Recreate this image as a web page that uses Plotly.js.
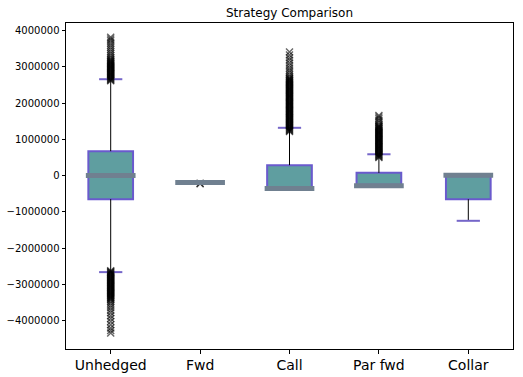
<!DOCTYPE html>
<html>
<head>
<meta charset="utf-8">
<script src="https://cdn.plot.ly/plotly-3.0.1.min.js"></script>
<style>html,body{margin:0;padding:0;background:#fff;}#chart{width:523px;height:377px;}</style>
</head>
<body>
<div id="chart"></div>
<script>
// ---- data ----
const categories = ["Unhedged", "Fwd", "Call", "Par fwd", "Collar"];
const positions = [1, 2, 3, 4, 5];
const q1Values = [-647000, -200000, -355000, -275000, -650000];
const medianValues = [5000, -190000, -355000, -275000, 10000];
const q3Values = [675000, -180000, 290000, 77000, 10000];
const whiskerLow = [-2660000, -200000, -355000, -275000, -1245000];
const whiskerHigh = [2660000, -180000, 1320000, 590000, 10000];

const outliersUnhedged = [
  2620000, 2640000, 2660000, 2680000, 2700000, 2720000, 2740000, 2760000, 2780000, 2800000,
  2820000, 2840000, 2860000, 2880000, 2900000, 2920000, 2940000, 2960000, 2980000, 3000000,
  3020000, 3040000, 3060000, 3080000, 3100000, 3120000, 3140000, 3160000, 3190000, 3220000,
  3260000, 3310000, 3360000, 3420000, 3480000, 3540000, 3600000, 3660000, 3720000, 3770000, 3820000,
  -2620000, -2640000, -2660000, -2680000, -2700000, -2720000, -2740000, -2760000, -2780000, -2800000,
  -2820000, -2840000, -2860000, -2880000, -2900000, -2920000, -2940000, -2960000, -2980000, -3000000,
  -3020000, -3040000, -3060000, -3080000, -3100000, -3120000, -3140000, -3160000, -3180000, -3200000,
  -3220000, -3240000, -3260000, -3280000, -3300000, -3320000, -3340000, -3360000, -3380000, -3400000,
  -3430000, -3470000, -3520000, -3580000, -3640000, -3710000, -3780000, -3860000, -3940000, -4020000,
  -4110000, -4200000, -4270000, -4340000
];
const outliersFwd = [-210000, -225000];
const outliersCall = [
  1220000, 1240000, 1260000, 1280000, 1300000, 1320000, 1340000, 1360000, 1380000, 1400000,
  1420000, 1440000, 1460000, 1480000, 1500000, 1520000, 1540000, 1560000, 1580000, 1600000,
  1620000, 1640000, 1660000, 1680000, 1700000, 1720000, 1740000, 1760000, 1780000, 1800000,
  1820000, 1840000, 1860000, 1880000, 1900000, 1920000, 1940000, 1960000, 1980000, 2000000,
  2020000, 2040000, 2060000, 2080000, 2100000, 2120000, 2140000, 2160000, 2180000, 2200000,
  2220000, 2240000, 2260000, 2280000, 2300000, 2320000, 2340000, 2360000, 2380000, 2400000,
  2420000, 2440000, 2460000, 2480000, 2500000, 2520000, 2540000, 2560000, 2580000, 2600000,
  2620000, 2640000, 2660000, 2680000, 2700000, 2740000, 2790000, 2850000, 2910000, 2970000,
  3040000, 3110000, 3180000, 3250000, 3330000, 3410000
];
const outliersParFwd = [
  500000, 520000, 540000, 560000, 580000, 600000, 620000, 640000, 660000, 680000,
  700000, 720000, 740000, 760000, 780000, 800000, 820000, 840000, 860000, 880000,
  900000, 920000, 940000, 960000, 980000, 1000000, 1020000, 1040000, 1060000, 1080000,
  1100000, 1120000, 1140000, 1160000, 1180000, 1200000, 1220000, 1240000, 1260000, 1280000,
  1300000, 1320000, 1340000, 1360000, 1380000, 1420000, 1470000, 1520000, 1570000, 1620000, 1660000
];
const outliersCollar = [];
const outlierSets = [outliersUnhedged, outliersFwd, outliersCall, outliersParFwd, outliersCollar];

const yTickValues = [-4000000, -3000000, -2000000, -1000000, 0, 1000000, 2000000, 3000000, 4000000];
const yTickText = yTickValues.map(v => (v < 0 ? "\u2212" : "") + String(Math.abs(v)));

// ---- styles ----
const boxFill = "#5F9EA0";
const boxEdge = "#6A5ACD";
const capColor = "#7566C9";
const medianColor = "#708090";
const boxWidth = 0.5;
const capHalf = 0.13;
const medianHalf = 0.278;

const traces = [];

// Boxes (library box trace from precomputed stats)
traces.push({
  type: "box",
  x: positions,
  q1: q1Values,
  median: medianValues,
  q3: q3Values,
  lowerfence: q1Values,
  upperfence: q3Values,
  width: boxWidth,
  boxpoints: false,
  fillcolor: boxFill,
  line: {color: boxEdge, width: 2},
  whiskerwidth: 0,
  hoverinfo: "skip",
  showlegend: false
});

// Whiskers (black)
const wx = [], wy = [];
positions.forEach((p, i) => {
  wx.push(p, p, null, p, p, null);
  wy.push(q3Values[i], whiskerHigh[i], null, q1Values[i], whiskerLow[i], null);
});
traces.push({type: "scatter", mode: "lines", x: wx, y: wy,
  line: {color: "#000000", width: 1}, hoverinfo: "skip", showlegend: false});

// Caps
const cx = [], cy = [];
positions.forEach((p, i) => {
  cx.push(p - capHalf, p + capHalf, null, p - capHalf, p + capHalf, null);
  cy.push(whiskerHigh[i], whiskerHigh[i], null, whiskerLow[i], whiskerLow[i], null);
});
traces.push({type: "scatter", mode: "lines", x: cx, y: cy,
  line: {color: capColor, width: 2}, hoverinfo: "skip", showlegend: false});

// Fliers
const fx = [], fy = [];
outlierSets.forEach((set, i) => {
  set.forEach(v => { fx.push(positions[i]); fy.push(v); });
});
traces.push({type: "scatter", mode: "markers", x: fx, y: fy,
  marker: {symbol: "x-thin", size: 7, opacity: 0.6, color: "#000000",
           line: {color: "#000000", width: 1.4}},
  hoverinfo: "skip", showlegend: false});

// Medians (thick slate gray)
const mx = [], my = [];
positions.forEach((p, i) => {
  mx.push(p - medianHalf, p + medianHalf, null);
  my.push(medianValues[i], medianValues[i], null);
});
traces.push({type: "scatter", mode: "lines", x: mx, y: my,
  line: {color: medianColor, width: 5}, hoverinfo: "skip", showlegend: false});

const font = "DejaVu Sans, Liberation Sans, sans-serif";
const layout = {
  width: 523, height: 377,
  margin: {l: 66, r: 10, t: 23, b: 28, pad: 0},
  paper_bgcolor: "#ffffff", plot_bgcolor: "#ffffff",
  font: {family: font, color: "#000000", size: 10},
  title: {text: "Strategy Comparison", font: {family: font, size: 12, color: "#000000"},
          x: 0.5, xref: "paper", y: 1 - 13 / 377, yref: "container", yanchor: "middle"},
  showlegend: false,
  xaxis: {
    range: [0.5, 5.5], tickmode: "array", tickvals: positions, ticktext: categories,
    tickfont: {family: font, size: 14, color: "#000000"},
    ticks: "outside", ticklen: 3.5, tickwidth: 1, tickcolor: "#000000",
    showline: true, linecolor: "#000000", linewidth: 1, mirror: true,
    showgrid: false, zeroline: false, fixedrange: true
  },
  yaxis: {
    range: [-4780000, 4210000], tickmode: "array", tickvals: yTickValues, ticktext: yTickText,
    tickfont: {family: font, size: 10, color: "#000000"},
    ticks: "outside", ticklen: 3.5, tickwidth: 1, tickcolor: "#000000",
    showline: true, linecolor: "#000000", linewidth: 1, mirror: true,
    showgrid: false, zeroline: false, fixedrange: true
  }
};

Plotly.newPlot("chart", traces, layout, {staticPlot: true, displayModeBar: false});
</script>
</body>
</html>
